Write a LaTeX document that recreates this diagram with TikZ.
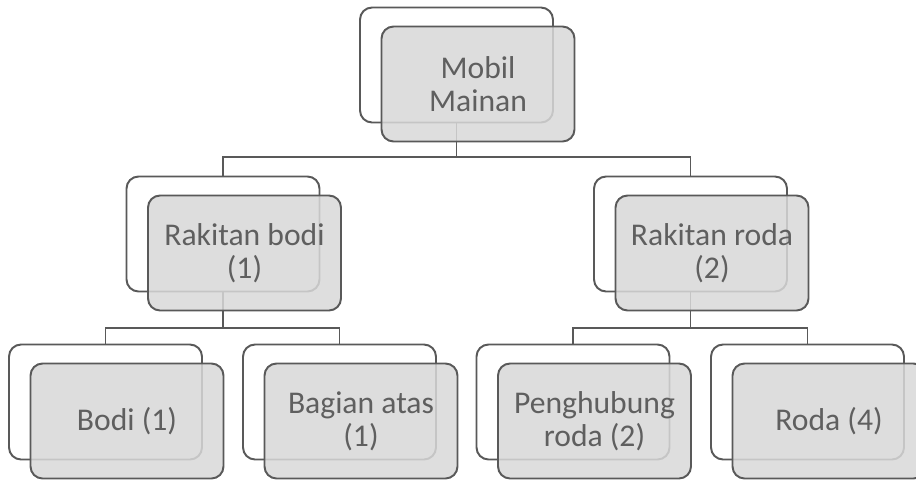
\documentclass[tikz,border=0pt]{standalone}
\usepackage{fontspec}
\setmainfont{Carlito}
\usepackage{tikz}
\usetikzlibrary{positioning,calc}
\definecolor{boxline}{RGB}{89,89,89}
\definecolor{boxfill}{RGB}{216,216,216}
\definecolor{boxtext}{RGB}{95,95,95}

\begin{document}
\begin{tikzpicture}[x=0.02cm, y=-0.02cm,
  backbox/.style={draw=boxline, line width=1.1pt, rounded corners=0.24cm, fill=white,
    minimum width=3.86cm, minimum height=2.3cm, inner sep=0pt},
  frontbox/.style={backbox, fill=boxfill, fill opacity=0.85, text opacity=1,
    text=boxtext, align=center, font=\fontsize{18}{19}\selectfont},
  link/.style={draw=boxline, line width=1.1pt}]
\useasboundingbox (0,0) rectangle (916,480);

% BACK: outline boxes of the tree
\node[backbox] (mobil) at (456.5,65) {};
\node[backbox] (rbodi) at (223,234) {};
\node[backbox] (rroda) at (690.5,234) {};
\node[backbox] (bodi)  at (105.5,402) {};
\node[backbox] (atas)  at (339.5,402) {};
\node[backbox] (hubung) at (573,402) {};
\node[backbox] (roda)  at (807.5,402) {};

% LINKS: elbow connectors between back boxes
\draw[link] (mobil.south) -- ++(0,34) -| (rbodi.north);
\draw[link] (mobil.south) -- ++(0,34) -| (rroda.north);
\draw[link] (rbodi.south) -- ++(0,36) -| (bodi.north);
\draw[link] (rbodi.south) -- ++(0,36) -| (atas.north);
\draw[link] (rroda.south) -- ++(0,36) -| (hubung.north);
\draw[link] (rroda.south) -- ++(0,36) -| (roda.north);

% FRONT: shaded boxes with the labels
\node[frontbox] (mobil-f)  at ($(mobil)+(21.5,19)$)  {Mobil\\Mainan};
\node[frontbox] (rbodi-f)  at ($(rbodi)+(21.5,19)$)  {Rakitan bodi\\(1)};
\node[frontbox] (rroda-f)  at ($(rroda)+(21.5,19)$)  {Rakitan roda\\(2)};
\node[frontbox] (bodi-f)   at ($(bodi)+(21.5,19)$)   {Bodi (1)};
\node[frontbox] (atas-f)   at ($(atas)+(21.5,19)$)   {Bagian atas\\(1)};
\node[frontbox] (hubung-f) at ($(hubung)+(21.5,19)$) {Penghubung\\roda (2)};
\node[frontbox] (roda-f)   at ($(roda)+(21.5,19)$)   {Roda (4)};
\end{tikzpicture}
\end{document}
